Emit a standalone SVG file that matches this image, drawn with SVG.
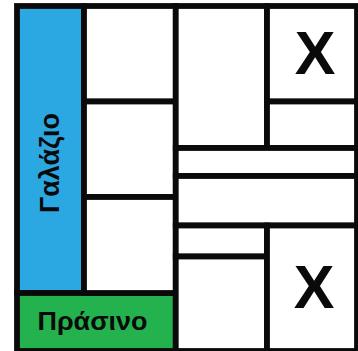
<svg xmlns="http://www.w3.org/2000/svg" width="358" height="351" viewBox="0 0 358 351">
<style>
.c{fill:#ffffff;stroke:#0a0a0a;stroke-width:5.8;stroke-linejoin:miter}
.blue{fill:#2ba8e1}
.green{fill:#24b24e}
.t{font-family:"Liberation Sans",Arial,sans-serif;font-weight:bold;fill:#0a0a0a}
</style>
<rect x="0" y="0" width="358" height="351" fill="#ffffff"/>
<g id="galazio"><rect class="c blue" x="17" y="6" width="67" height="287"/>
<text class="t" font-size="27" text-anchor="middle" transform="translate(59,163) rotate(-90)">Γαλάζιο</text></g>
<g id="prasino"><rect class="c green" x="17" y="293" width="158.75" height="58"/>
<text class="t" font-size="25" text-anchor="middle" x="92.5" y="330" textLength="110" lengthAdjust="spacingAndGlyphs">Πράσινο</text></g>
<g id="c2r1"><rect class="c" x="84" y="6" width="91.75" height="95.5"/></g>
<g id="c2r2"><rect class="c" x="84" y="101.5" width="91.75" height="95.5"/></g>
<g id="c2r3"><rect class="c" x="84" y="197" width="91.75" height="96"/></g>
<g id="c3top"><rect class="c" x="175.75" y="6" width="91.25" height="142"/></g>
<g id="xtop"><rect class="c" x="267" y="6" width="90" height="95.5"/>
<text class="t" font-size="61" text-anchor="middle" x="315" y="74">X</text></g>
<g id="c4mid"><rect class="c" x="267" y="101.5" width="90" height="46.5"/></g>
<g id="band1"><rect class="c" x="175.75" y="148" width="181.25" height="28"/></g>
<g id="band2"><rect class="c" x="175.75" y="176" width="181.25" height="49.5"/></g>
<g id="c3small"><rect class="c" x="175.75" y="225.5" width="91.25" height="31"/></g>
<g id="c3big"><rect class="c" x="175.75" y="256.5" width="91.25" height="94.5"/></g>
<g id="xbottom"><rect class="c" x="267" y="225.5" width="90" height="125.5"/>
<text class="t" font-size="61" text-anchor="middle" x="314" y="308">X</text></g>
<g id="connectors"></g>
</svg>
